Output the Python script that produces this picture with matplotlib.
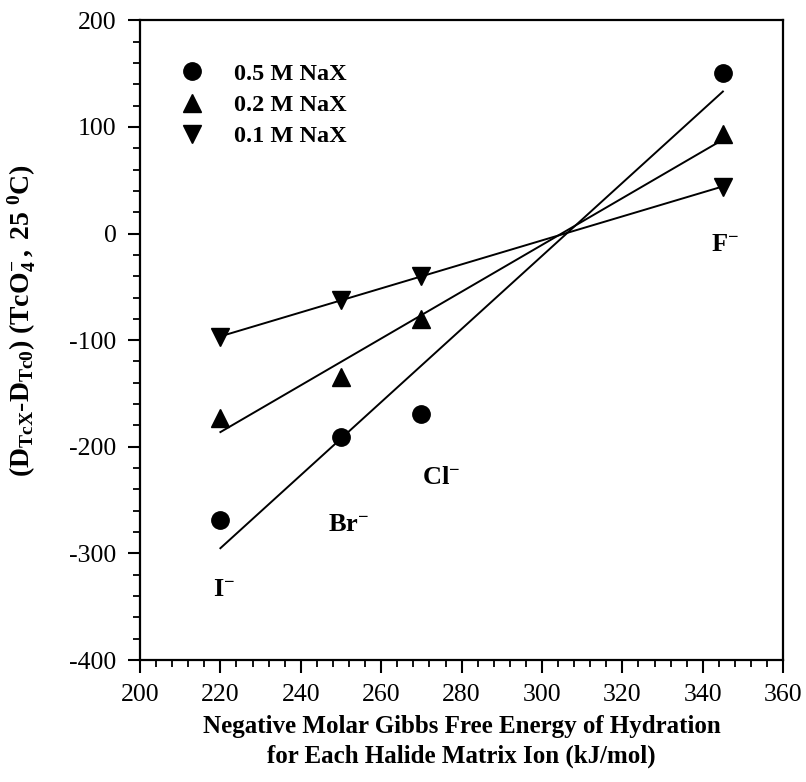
import numpy as np
import matplotlib
matplotlib.use('Agg')
import matplotlib.pyplot as plt
from matplotlib.ticker import MultipleLocator

plt.rcParams['font.family'] = ['Liberation Serif', 'DejaVu Serif']
plt.rcParams['mathtext.fontset'] = 'custom'
plt.rcParams['mathtext.rm'] = 'Liberation Serif'
plt.rcParams['mathtext.it'] = 'Liberation Serif:italic'
plt.rcParams['mathtext.bf'] = 'Liberation Serif:bold'
plt.rcParams['axes.unicode_minus'] = False

# hydration energy of each halide (x) and D difference per NaX concentration
halides = ['I', 'Br', 'Cl', 'F']
energy = [220, 250, 270, 345]
d_05 = [-269, -191, -169, 151]
d_02 = [-173, -135, -80, 93]
d_01 = [-97, -62, -40, 44]

label_x = [221, 252, 275, 345.5]
label_y = [-334, -273, -229, -11]

fig = plt.figure(figsize=(8.06, 7.82), dpi=100)
ax = fig.add_axes([0.1737, 0.156, 0.798, 0.818])

series = [(d_05, 'o', '0.5 M NaX', 12.5),
          (d_02, '^', '0.2 M NaX', 12.5),
          (d_01, 'v', '0.1 M NaX', 12.5)]

x = np.array(energy, dtype=float)
for y, m, lab, ms in series:
    ax.plot(x, y, m, color='black', markersize=ms, label=lab, linestyle='none')
    k, b = np.polyfit(x, y, 1)
    xx = np.array([x.min(), x.max()])
    ax.plot(xx, k * xx + b, color='black', linewidth=1.4)

for name, lx, ly in zip(halides, label_x, label_y):
    ax.text(lx, ly, r'$\mathbf{%s^{-}}$' % name, fontsize=19, ha='center', va='center')

ax.set_xlim(200, 360)
ax.set_ylim(-400, 200)
ax.xaxis.set_major_locator(MultipleLocator(20))
ax.xaxis.set_minor_locator(MultipleLocator(4))
ax.yaxis.set_major_locator(MultipleLocator(100))
ax.yaxis.set_minor_locator(MultipleLocator(20))
ax.tick_params(which='major', direction='out', length=9, width=1.5, labelsize=18.5, pad=8)
ax.tick_params(which='minor', direction='out', length=5, width=1.3)
for sp in ax.spines.values():
    sp.set_linewidth(1.6)

ax.set_xlabel('Negative Molar Gibbs Free Energy of Hydration\nfor Each Halide Matrix Ion (kJ/mol)',
              fontsize=18, fontweight='bold', labelpad=7, linespacing=1.35)
ax.set_ylabel(r'$\mathbf{(D_{TcX}}$-$\mathbf{D_{Tc0})\ (TcO_4^{-}\,,\ 25\ ^{0}C)}$',
              fontsize=20)
ax.yaxis.set_label_coords(-0.158, 0.53)

ax.legend(loc='upper left', bbox_to_anchor=(0.017, 0.96), frameon=False,
          prop={'weight': 'bold', 'size': 17.5}, handletextpad=0.7,
          labelspacing=0.38, borderaxespad=0.3)

fig.savefig('out.png', dpi=100)
